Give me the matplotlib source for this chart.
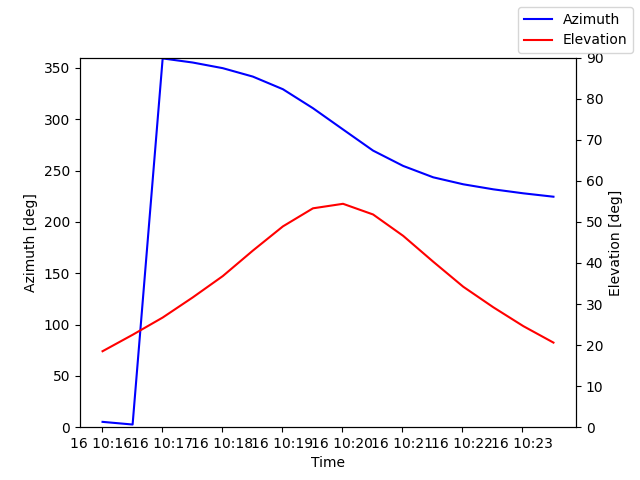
import matplotlib
matplotlib.use("Agg")
import matplotlib.pyplot as plt
import matplotlib.dates as mdates
import numpy as np
import pandas as pd

start_time = "2024-01-16 10:16:01"
step_seconds = 30
azimuth = [5.2, 2.6, 359.2, 355.2, 349.7, 341.5, 329.2, 310.7, 290.0, 269.4,
           254.5, 243.4, 236.6, 231.7, 227.8, 224.5]
elevation = [18.5, 22.5, 26.7, 31.6, 36.8, 43.0, 48.9, 53.3, 54.4, 51.8,
             46.6, 40.3, 34.2, 29.2, 24.6, 20.6]

times = pd.date_range(start=start_time, periods=len(azimuth), freq=f"{step_seconds}s")

fig, ax1 = plt.subplots(figsize=(6.4, 4.8), dpi=100)
ax1.plot(times, azimuth, color="blue", label="Azimuth")
ax1.set_ylim(0, 360)
ax1.set_ylabel("Azimuth [deg]")
ax1.set_xlabel("Time")
ax1.xaxis.set_major_locator(mdates.MinuteLocator())
ax1.xaxis.set_major_formatter(mdates.DateFormatter("%d %H:%M"))

ax2 = ax1.twinx()
ax2.plot(times, elevation, color="red", label="Elevation")
ax2.set_ylim(0, 90)
ax2.set_ylabel("Elevation [deg]")

fig.legend(loc="upper right")
fig.savefig("out.png")
